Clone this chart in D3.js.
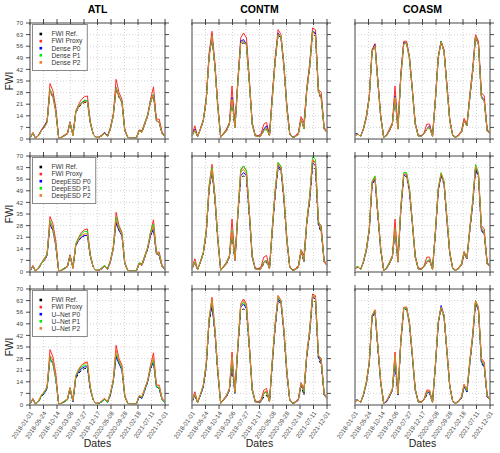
<!DOCTYPE html>
<html>
<head>
<meta charset="utf-8">
<script src="https://cdn.jsdelivr.net/npm/d3@7"></script>
<style>
  body { margin: 0; background: #fff; }
  text { font-family: "Liberation Sans", Arial, sans-serif; }
</style>
</head>
<body>
<svg id="chart"></svg>
<script>
// regions (columns) and methods (rows)
const regions = ['ATL', 'CONTM', 'COASM'];
const methods = ['Dense', 'DeepESD', 'U\u2013Net'];
const xtickLabels = ['2018-01-01','2018-05-24','2018-10-14','2019-03-06','2019-07-27','2019-12-17',
                     '2020-05-08','2020-09-28','2021-02-18','2021-07-11','2021-12-01'];
const yticks = [0, 7, 14, 21, 28, 35, 42, 49, 56, 63, 70];
// monthly values, 2018-01 .. 2021-12
const months = d3.utcMonth.range(new Date(Date.UTC(2018, 0, 1)), new Date(Date.UTC(2022, 0, 1)));

const refATL   = [0.5,3.5,0.5,2,5,7,10,29,25,16,0.5,1,2,3,10,2,16,19,21,22,22,10,3,1,1,2,3.5,1.5,6,14,30,25,22,5,1,0.5,0.5,0.5,5,4,9,14,22,26,11,10,3,1.5];
const proxyATL = [0.8,4,0.5,2.5,5.5,8,11,33.5,29,19,0.5,1.2,2.5,3.5,10.5,2.5,17,21,24,25.5,26,11,3,1,1.2,2.5,4,2,7,15,36,28,24,6,1.2,0.5,0.5,0.8,5.5,5,10,15,24,31.5,12,12,4,2];
const refCONTM   = [2,5,1.5,6,11,23,49,61,43,19,1,3,5,9,23,7,33,57,58,56,33,9,2,1.5,2,5,6,2,25,47,63,61,43,19,3,1,1.5,3,12,6,29,43,64,62,28,24,6,4];
const proxyCONTM = [3,8,1.5,6.5,12,25,52,65,46,21,1.2,3.5,6,10,32,8,35,61,64,61,36,10,2.5,2,3,9,10,2.5,27,50,66,63,45,21,3.5,1.2,2,4,13.5,10,31,46,67,66,30,28,7,4.5];
const refCOASM   = [2,3,1.5,6,13,25,53,56,33,13,1,2,5,9,25,6,37,57,58,48,29,9,2,1.5,3,6,7,1.5,23,49,58,53,31,11,2,1,2,4,11,8,25,41,62,57,25,23,5,3];
const proxyCOASM = [2.5,3,1.5,6.5,14,26,54,57.5,35,14,1.2,2.5,6,10,32,7,39,59,59,50,30,10,2.5,2,3.5,9,9,2,24,50,59,54,33,12,2.5,1.2,2.5,5,12.5,9,27,43,63,59,28,26,6,3.5];

const denseP0ATL = [0.5,3.5,0.5,2,5,7.5,10.5,29.5,26,17,0.5,1,2,3,10,2.5,16,19.5,22,23,23,10,3,1,1,2,4,1.5,6,14,31,25.5,22.5,5,1,0.5,0.5,0.5,5,4.5,9,14,23,27,11,10,3,1.5];
const denseP1ATL = [0.5,3.5,0.5,2,5,7,10,30,26,17,0.5,1,2,3,10,2,16.5,20,22,23.5,23,10.5,3,1,1,2,3.5,1.5,6,14,31,26,22.5,5,1,0.5,0.5,0.5,5,4.5,9.5,14.5,23,27,11,10,3,1.5];
const denseP2ATL = [0.5,3.5,0.5,2,5,7,10,29.5,25.5,16.5,0.5,1,2,3,10,2,16,19.5,21.5,22.5,22.5,10,3,1,1,2,3.5,1.5,6,14,30.5,25.5,22,5,1,0.5,0.5,0.5,5,4,9,14,22.5,26.5,11,10,3,1.5];
const deepP0ATL = [0.5,3.5,0.5,2,5,7,10,29,25,16,0.5,1,2,3,10,2.5,16,19,21,22,22,10,3,1,1,2,3.5,1.5,6,14,30,25,22,5,1,0.5,0.5,0.5,5,4,9,14,22,26,11,10,3,1.5];
const deepP1ATL = [0.8,3.5,0.5,2.5,5.5,7.5,11,31,27,17,0.5,1.2,2.5,3,10,2.5,17,20.5,23,24.5,24.5,10.5,3,1,1.2,2.5,4,2,6.5,14.5,33,27,23,5.5,1,0.5,0.5,0.8,5.5,4.5,9.5,15,24,29,11.5,11,3.5,1.5];
const deepP2ATL = [0.5,3.5,0.5,2,5,7,10.5,30,26,16.5,0.5,1,2,3,10,2,16.5,19.5,22,23,23,10,3,1,1,2,3.5,1.5,6,14,31.5,26,22.5,5,1,0.5,0.5,0.5,5,4,9,14.5,23,27.5,11,10.5,3,1.5];
const unetP0ATL = [0.5,3.5,0.5,2,5.5,7,10,28,25,16,0.5,1,2,3,10,2,17,20,22,23,23,10,3,1,1,2,3.5,1.5,6,14,29,25,21,5,1,0.5,0.5,0.5,5,4,9,14,22,26,11,10,3,1.5];
const unetP1ATL = [0.5,3.5,0.5,2,5.5,7.5,10.5,28.5,25,16,0.5,1,2,3,10,2.5,17.5,21,23,24,24,10.5,3,1,1,2,3.5,1.5,6.5,14.5,31,26,22,5,1,0.5,0.5,0.5,5.5,4.5,9.5,14.5,23,27,11,10.5,3,1.5];
const unetP2ATL = [0.8,3.5,0.5,2.5,6,8,11,30,27,17,0.5,1.2,2.5,3.5,10.5,2.5,18,22,24,25,25.5,11,3,1,1.2,2.5,4,2,7,15,33,27,23,5.5,1,0.5,0.5,0.8,5.5,5,10,15,23.5,29,12,11.5,3.5,2];

const denseP0CONTM = [2.5,6,1.5,6,11,24,50,62,44,20,1,3,5,9,25,7,34,59,60,57,34,9,2,1.5,2,6,8,2,26,48,64,61,44,20,3,1,1.5,3,12,7,30,44,65,64,29,25,6,4];
const denseP1CONTM = [2,5,1.5,6,11.5,24,50,62,44,20,1,3,5,9,24,7,34,58,59,57,34,9,2,1.5,2,5,6,2,25,48,63,62,44,20,3,1,1.5,3,12,6,30,44,65,63,29,25,6,4];
const denseP2CONTM = [2,5.5,1.5,6,11,23.5,49.5,62,43.5,19.5,1,3,5,9,24,7,33.5,58,59,56.5,33.5,9,2,1.5,2,5.5,7,2,25,47.5,63.5,61.5,43.5,19.5,3,1,1.5,3,12,6.5,29.5,43.5,64.5,63,28.5,24.5,6,4];
const deepP0CONTM = [2.5,5.5,1.5,6,11.5,24,50,61,44,20,1,3,5,9,24,7,34,58,60,58,34,9,2,1.5,2,6,7,2,26,48,64,62,44,20,3,1,1.5,3,12.5,7,30,44,66,64,29,25,6,4];
const deepP1CONTM = [2.5,6,1.5,6.5,12,25,52,63,46,21,1,3,5.5,9.5,25,7.5,35,62,64,61,36,10,2,1.5,2,6,7,2,27,50,66,64,46,21,3,1,1.5,3,13,7,31,46,70,68,31,26,6,4];
const deepP2CONTM = [2,5.5,1.5,6,11,24,50,62,44,20,1,3,5,9,24,7,34,60,62,59,35,9.5,2,1.5,2,5.5,7,2,26,49,65,63,45,20,3,1,1.5,3,12.5,7,30,45,68,66,30,25,6,4];
const unetP0CONTM = [2.5,6,1.5,6,11,24,51,60,44,20,1,3,5,9,25,7,34,59,61,58,35,9,2,1.5,2,7,8,2,26,48,64,62,44,20,3,1,1.5,3,12,8,30,44,65,64,29,26,6,4];
const unetP1CONTM = [2.5,6.5,1.5,6.5,12,25,52,63,45,21,1,3,5.5,9.5,28,7.5,35,60,62,59,35,9.5,2,1.5,2.5,7,8,2,27,49,65,63,45,21,3,1,1.5,3.5,13,8,31,45,66,65,30,27,6.5,4];
const unetP2CONTM = [2.5,6.5,1.5,6.5,12,25,52,64,45,21,1,3,5.5,9.5,29,7.5,35,61,63,60,35,9.5,2,1.5,2.5,7.5,8.5,2,27,49,66,63,45,21,3,1,1.5,3.5,13,8.5,31,45,66,65,30,27,6.5,4];

const denseP0COASM = [3.5,3,1.5,6,13,25,53,57,34,13,1,2,5,9,26,6,38,58,58,49,29,9,2,1.5,3,6,8,1.5,23,49,59,53,32,11,2,1,2,4,11,8,25,41,62,57,26,23,5,3];
const denseP1COASM = [2.5,3,1.5,6,13,25,53,56,34,13,1,2,5,9,25,6,37,57,58,49,29,9,2,1.5,3,6,7,1.5,23,49,59,53,31,11,2,1,2,4,11,8,25,41,62,57,25,23,5,3];
const denseP2COASM = [2,3,1.5,6,13,25,53,56.5,33.5,13,1,2,5,9,25.5,6,37.5,57.5,58,48.5,29,9,2,1.5,3,6,7.5,1.5,23,49,58.5,53,31.5,11,2,1,2,4,11,8,25,41,62,57,25.5,23,5,3];
const deepP0COASM = [2.5,3,1.5,6,13,25,53,56,34,13,1,2,5,9,25,6,37,58,59,49,29,9,2,1.5,3,6,7,1.5,23,49,59,54,31,11,2,1,2,4,11,8,25,41,63,58,25,23,5,3];
const deepP1COASM = [2.5,3.5,1.5,6.5,14,26,55,58,35,14,1,2.5,5.5,9.5,26,6.5,39,60,60,51,30,9.5,2,1.5,3,6.5,7.5,1.5,24,51,60,55,33,12,2,1,2,4.5,12,8.5,26,43,65,60,27,24,5,3];
const deepP2COASM = [2.5,3,1.5,6,13.5,25.5,54,57,34.5,13.5,1,2,5,9,25.5,6,38,59,59,50,29.5,9,2,1.5,3,6,7,1.5,23.5,50,59.5,54,32,11.5,2,1,2,4,11.5,8,25.5,42,64,59,26,23.5,5,3];
const unetP0COASM = [3,3,1.5,6,13,25,53,56,34,13,1,2,5,9,27,6,38,58,59,49,29,9,2,1.5,3,7,8,1.5,23,49,60,54,32,11,2,1,2,4,11,8,25,41,62,57,26,23,5,3];
const unetP1COASM = [2.5,3,1.5,6.5,13.5,25.5,54,57,35,13.5,1,2.5,5.5,9.5,29,6.5,38,58,58.5,49.5,29.5,9.5,2,1.5,3,7.5,8.5,1.5,23.5,50,59,54,32,11.5,2,1,2,4.5,12,8.5,26,42,63,58,27,24,5.5,3];
const unetP2COASM = [2.5,3,1.5,6.5,13.5,25.5,54,57,35,13.5,1,2.5,5.5,9.5,30,6.5,38.5,58.5,59,50,30,9.5,2,1.5,3,8,8.5,1.5,23.5,50,59,54,32.5,11.5,2,1,2,4.5,12,9,26,42,63,58,27.5,24.5,5.5,3];

// lookup tables built from the arrays above
const refs = { ATL: [refATL, proxyATL], CONTM: [refCONTM, proxyCONTM], COASM: [refCOASM, proxyCOASM] };
const models = {
    'Dense':   { ATL: [denseP0ATL, denseP1ATL, denseP2ATL], CONTM: [denseP0CONTM, denseP1CONTM, denseP2CONTM], COASM: [denseP0COASM, denseP1COASM, denseP2COASM] },
    'DeepESD': { ATL: [deepP0ATL, deepP1ATL, deepP2ATL], CONTM: [deepP0CONTM, deepP1CONTM, deepP2CONTM], COASM: [deepP0COASM, deepP1COASM, deepP2COASM] },
    'U\u2013Net':   { ATL: [unetP0ATL, unetP1ATL, unetP2ATL], CONTM: [unetP0CONTM, unetP1CONTM, unetP2CONTM], COASM: [unetP0COASM, unetP1COASM, unetP2COASM] }
};

const colors = { ref: '#000000', proxy: '#ff2a2a', p0: '#0000ff', p1: '#00ee00', p2: '#ee7a2a' };

const W = 500, H = 453;
const panelLeft = [30, 192, 355];
const panelTop = [23, 156, 289];
const pw = 135, ph = 116;

const svg = d3.select('#chart').attr('width', W).attr('height', H);

const parse = d3.utcParse('%Y-%m-%d');
const xticks = xtickLabels.map(parse);
const xscale = d3.scaleUtc().domain([xticks[0], xticks[xticks.length - 1]]).range([0, pw]);
const yscale = d3.scaleLinear().domain([0, 70]).range([ph, 0]);

const line = d3.line()
    .x((d, i) => xscale(months[i]))
    .y(d => yscale(d));

// column titles
regions.forEach((r, c) => {
    svg.append('text')
        .attr('x', panelLeft[c] + pw / 2)
        .attr('y', 13)
        .attr('text-anchor', 'middle')
        .style('font-size', '10.5px')
        .style('font-weight', 'bold')
        .text(r);
});

methods.forEach((m, row) => {
    regions.forEach((r, col) => {
        const g = svg.append('g')
            .attr('transform', `translate(${panelLeft[col]}, ${panelTop[row]})`);

        // dotted grid
        g.append('g').selectAll('line.vg')
            .data(xticks)
            .join('line')
            .attr('x1', d => xscale(d)).attr('x2', d => xscale(d))
            .attr('y1', 0).attr('y2', ph)
            .attr('stroke', '#c8c8c8')
            .attr('stroke-width', 0.8)
            .attr('stroke-dasharray', '1,2');
        g.append('g').selectAll('line.hg')
            .data(yticks)
            .join('line')
            .attr('x1', 0).attr('x2', pw)
            .attr('y1', d => yscale(d)).attr('y2', d => yscale(d))
            .attr('stroke', '#c8c8c8')
            .attr('stroke-width', 0.8)
            .attr('stroke-dasharray', '1,2');

        // series: reference underneath, model lines on top
        const [ref, proxy] = refs[r];
        const [p0, p1, p2] = models[m][r];
        const series = [
            { v: ref, c: colors.ref, dash: '3,2.5' },
            { v: proxy, c: colors.proxy, dash: null },
            { v: p0, c: colors.p0, dash: null },
            { v: p1, c: colors.p1, dash: null },
            { v: p2, c: colors.p2, dash: null }
        ];
        g.append('g').selectAll('path')
            .data(series)
            .join('path')
            .attr('d', d => line(d.v))
            .attr('fill', 'none')
            .attr('stroke', d => d.c)
            .attr('stroke-width', 1)
            .attr('stroke-dasharray', d => d.dash);

        // frame
        g.append('rect')
            .attr('width', pw).attr('height', ph)
            .attr('fill', 'none')
            .attr('stroke', '#8e8e8e')
            .attr('stroke-width', 1.6);

        // ticks
        const tk = g.append('g').attr('stroke', '#333').attr('stroke-width', 0.9);
        xticks.forEach(t => {
            const x = xscale(t);
            tk.append('line').attr('x1', x).attr('x2', x).attr('y1', -4).attr('y2', 2);
            tk.append('line').attr('x1', x).attr('x2', x).attr('y1', ph).attr('y2', ph + 4);
        });
        yticks.forEach(v => {
            const y = yscale(v);
            tk.append('line').attr('x1', pw).attr('x2', pw + 4).attr('y1', y).attr('y2', y);
            if (col === 0) {
                tk.append('line').attr('x1', -4).attr('x2', 0).attr('y1', y).attr('y2', y);
            }
        });

        if (col === 0) {
            g.append('g').selectAll('text')
                .data(yticks)
                .join('text')
                .attr('x', -7)
                .attr('y', d => yscale(d))
                .attr('dy', '0.35em')
                .attr('text-anchor', 'end')
                .attr('fill', '#444')
                .style('font-size', '6px')
                .text(d => d);

            svg.append('text')
                .attr('transform', `translate(12.5, ${panelTop[row] + ph / 2}) rotate(-90)`)
                .attr('text-anchor', 'middle')
                .style('font-size', '10px')
                .attr('fill', '#222')
                .text('FWI');

            // legend
            const labels = ['FWI Ref.', 'FWI Proxy', m + ' P0', m + ' P1', m + ' P2'];
            const lcols = [colors.ref, colors.proxy, colors.p0, colors.p1, colors.p2];
            const lg = g.append('g').attr('transform', 'translate(2.5, 1.5)');
            const box = lg.append('rect')
                .attr('fill', '#fff')
                .attr('stroke', '#888')
                .attr('stroke-width', 1);
            const items = lg.selectAll('g.item')
                .data(labels)
                .join('g')
                .attr('transform', (d, i) => `translate(0, ${9.5 + i * 7.1})`);
            items.append('rect')
                .attr('x', 7).attr('y', -1.3)
                .attr('width', 2.6).attr('height', 2.6)
                .attr('fill', (d, i) => lcols[i]);
            const txt = items.append('text')
                .attr('x', 19)
                .attr('dy', '0.35em')
                .attr('fill', '#333')
                .style('font-size', '6.6px')
                .text(d => d);
            let maxw = 0;
            txt.each(function () { maxw = Math.max(maxw, this.getComputedTextLength()); });
            box.attr('width', 19 + maxw + 5).attr('height', 46);
        }

        if (row === 2) {
            g.append('g').selectAll('text')
                .data(xticks)
                .join('text')
                .attr('transform', d => `translate(${xscale(d) + 1.5}, ${ph + 7}) rotate(-55)`)
                .attr('text-anchor', 'end')
                .attr('dy', '0.35em')
                .attr('fill', '#444')
                .style('font-size', '6.2px')
                .text((d, i) => xtickLabels[i]);

            svg.append('text')
                .attr('x', panelLeft[col] + pw / 2)
                .attr('y', 447)
                .attr('text-anchor', 'middle')
                .attr('fill', '#222')
                .style('font-size', '10.5px')
                .text('Dates');
        }
    });
});
</script>
</body>
</html>
